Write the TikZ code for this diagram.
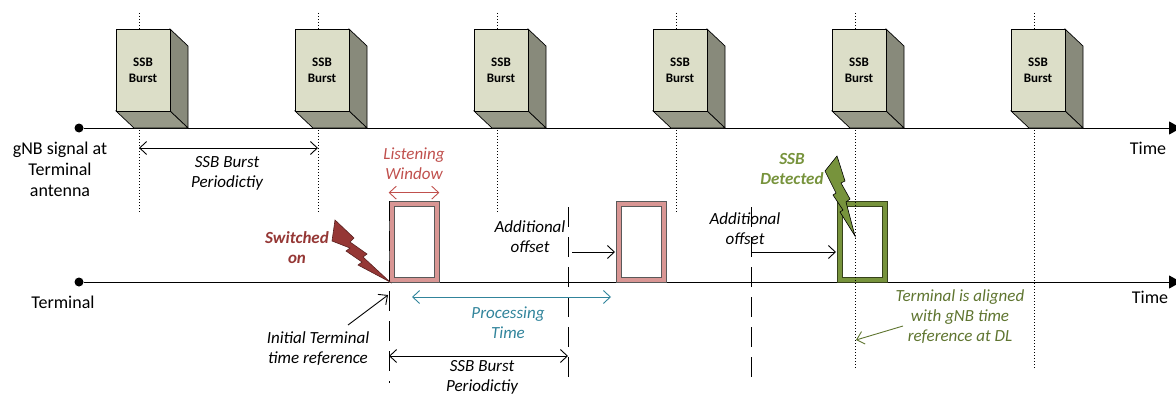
\documentclass[tikz,border=0pt]{standalone}
\usepackage{fontspec}
\setmainfont{Carlito}
\usepackage{xcolor}
\usetikzlibrary{arrows.meta,positioning,calc}

\definecolor{burstfront}{HTML}{DCDEC8}
\definecolor{burstside}{HTML}{888A7B}
\definecolor{burstbottom}{HTML}{979988}
\definecolor{winpink}{HTML}{D99694}
\definecolor{detgreen}{HTML}{77933C}
\definecolor{switchred}{HTML}{953735}
\definecolor{listenred}{HTML}{C0504D}
\definecolor{proctea}{HTML}{31849B}
\definecolor{aligngreen}{HTML}{5F7530}

\begin{document}
\begin{tikzpicture}[x=1pt,y=-1pt,
    lbl/.style={font=\fontsize{17}{20}\selectfont\itshape,align=center,inner sep=0pt},
    axislbl/.style={font=\fontsize{18}{21}\selectfont,align=center,inner sep=0pt},
    bursttext/.style={font=\fontsize{13}{16}\selectfont\bfseries,align=center,inner sep=0pt},
    dot/.style={circle,fill=black,inner sep=0pt,minimum size=9pt},
    axis/.style={line width=1pt,-{Triangle[length=12pt,width=13pt]}},
    tick/.style={line width=0.9pt,dash pattern=on 1.2pt off 1.8pt},
    longdash/.style={line width=1pt,dash pattern=on 20pt off 10pt},
    span/.style={line width=0.9pt,{Straight Barb[length=7pt,width=13pt]}-{Straight Barb[length=7pt,width=13pt]}},
    push/.style={line width=0.9pt,-{Straight Barb[length=7pt,width=13pt]}},
    window/.style={rectangle,inner sep=0pt,minimum width=50pt,minimum height=81pt,line width=0.7pt},
    hole/.style={rectangle,fill=white,inner sep=0pt,minimum width=40pt,minimum height=71pt,line width=0.7pt}]

    \clip (0,0) rectangle (1176,396);

    %time axes
    \node[dot] (gnb0) at (79,128) {};
    \coordinate (gnb1) at (1181,128);
    \draw[axis] (gnb0) -- (gnb1);
    \node[dot] (ue0) at (79,282) {};
    \coordinate (ue1) at (1181,282);
    \draw[axis] (ue0) -- (ue1);

    \node[axislbl] (gnblbl) at (60,169) {gNB signal at\\Terminal\\antenna};
    \node[axislbl] (uelbl) at (63,302) {Terminal};
    \node[axislbl] (gnbtime) at (1148,148) {Time};
    \node[axislbl] (uetime) at (1150,297) {Time};

    %listening windows
    \node[window,fill=winpink,draw=black!65] (win1) at (414,241.5) {};
    \node[hole,draw=black!65] (hole1) at (win1) {};
    \node[window,fill=winpink,draw=black!65] (win2) at (641,241.5) {};
    \node[hole,draw=black!65] (hole2) at (win2) {};
    \node[window,fill=detgreen,draw=detgreen!45!black] (win3) at (862,241.5) {};
    \node[hole,draw=detgreen!45!black] (hole3) at (win3) {};

    %burst instants
    \foreach \d/\e [count=\i] in {139/213,318/213,497/213,676/213,855/368,1034/368} {
        \coordinate (up\i) at (\d,13);
        \coordinate (dn\i) at (\d,\e);
        \draw[tick] (up\i) -- (dn\i);
    }

    %ssb bursts
    \foreach \d [count=\i] in {139,318,497,676,855,1034} {
        \filldraw[fill=burstside,line width=0.7pt] (\d+31,29) -- (\d+49,46) -- (\d+49,128) -- (\d+31,111) -- cycle;
        \filldraw[fill=burstbottom,line width=0.7pt] (\d-23,111) -- (\d+31,111) -- (\d+49,128) -- (\d-5,128) -- cycle;
        \filldraw[fill=burstfront,line width=0.7pt] (\d-23,29) rectangle (\d+31,111);
        \node[bursttext] (burst\i) at (\d+4,70) {SSB\\Burst};
    }

    %terminal instants
    \coordinate (t0) at (389,201);
    \coordinate (t0b) at (389,383);
    \coordinate (t1) at (568,207);
    \coordinate (t1b) at (568,383);
    \coordinate (t2) at (751,207);
    \coordinate (t2b) at (751,383);
    \draw[longdash] (t0) -- (t0b);
    \draw[longdash] (t1) -- (t1b);
    \draw[longdash] (t2) -- (t2b);

    %bolts
    \filldraw[fill=switchred,draw=switchred!60!black,line width=0.6pt]
        (335,220) -- (354,238) -- (350,242) -- (367,254) -- (363,257) -- (390,282)
        -- (358,265) -- (362,262) -- (346,251) -- (350,248) -- (332,241) -- cycle;
    \filldraw[fill=detgreen,draw=black,line width=0.6pt]
        (837,156) -- (845,181) -- (841,183) -- (850,199) -- (846,202) -- (855,236)
        -- (840,212) -- (843,210) -- (833,195) -- (836,193) -- (825,171) -- cycle;

    %labels
    \node[lbl] (perup) at (227,173) {SSB Burst\\Periodictiy};
    \node[lbl,font=\fontsize{17}{20}\selectfont\bfseries\itshape,text=switchred] (switched) at (297,248) {Switched\\on};
    \node[lbl,text=listenred] (listen) at (414,164) {Listening\\Window};
    \node[lbl] (offset1) at (530,237) {Additional\\offset};
    \node[lbl] (offset2) at (745,229) {Additional\\offset};
    \node[lbl,font=\fontsize{17}{20}\selectfont\bfseries\itshape,text=detgreen] (detected) at (792,169) {SSB\\Detected};
    \node[lbl,text=proctea] (proc) at (508,323) {Processing\\Time};
    \node[lbl] (initref) at (318,349) {Initial Terminal\\time reference};
    \node[lbl] (perdn) at (482,377) {SSB Burst\\Periodictiy};
    \node[lbl,text=aligngreen] (aligned) at (960,317) {Terminal is aligned\\with gNB time\\reference at DL};

    %arrows
    \coordinate (pa) at (139,148);
    \coordinate (pb) at (318,148);
    \draw[span] (pa) -- (pb);
    \draw[span,listenred] ([yshift=8pt]win1.north west) -- ([yshift=8pt]win1.north east);
    \coordinate (oa) at (572,252);
    \coordinate (ob) at (615,252);
    \draw[push] (oa) -- (ob);
    \coordinate (oc) at (751,252);
    \coordinate (od) at (836,252);
    \draw[push] (oc) -- (od);
    \coordinate (qa) at (412,297);
    \coordinate (qb) at (611,297);
    \draw[span,proctea] (qa) -- (qb);
    \coordinate (ra) at (389,356);
    \coordinate (rb) at (568,356);
    \draw[span] (ra) -- (rb);
    \coordinate (ia) at (348,325);
    \coordinate (ib) at (388,295);
    \draw[push] (ia) -- (ib);
    \coordinate (ga) at (903,326);
    \coordinate (gb) at (856,340);
    \draw[push,aligngreen] (ga) -- (gb);
\end{tikzpicture}
\end{document}
